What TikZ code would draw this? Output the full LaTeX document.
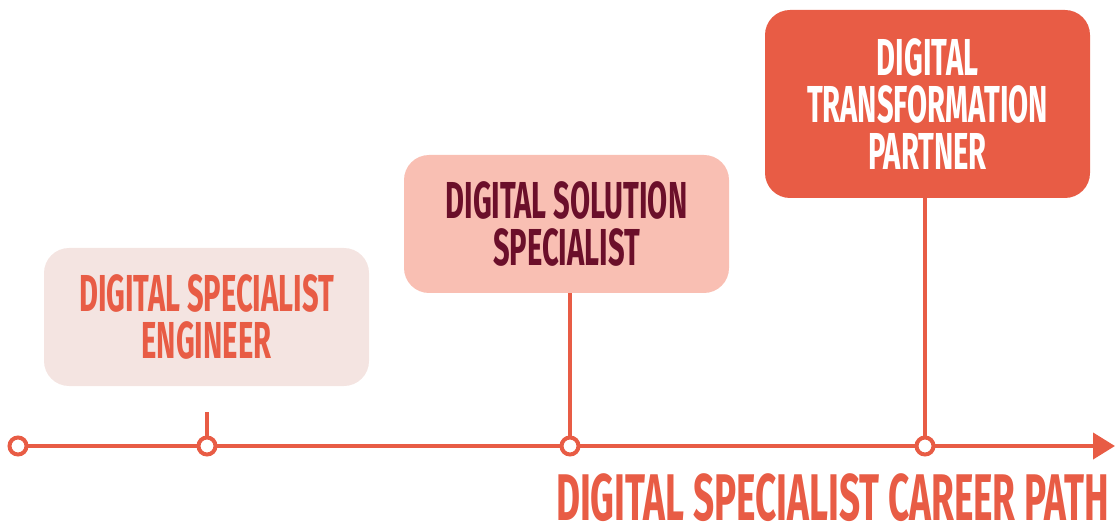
\documentclass[tikz,border=0pt]{standalone}
\usepackage{fontspec}
\setmainfont{Fira Sans}[FakeStretch=0.56]
\usetikzlibrary{arrows.meta}
\definecolor{coral}{HTML}{E85C45}
\definecolor{blush}{HTML}{F4E4E1}
\definecolor{salmon}{HTML}{F9BFB3}
\definecolor{maroon}{HTML}{6B0F2A}
\begin{document}
\begin{tikzpicture}[x=1pt,y=-1pt]
      \useasboundingbox (0,0) rectangle (1115,526);
      \begin{scope}[every node/.style={rounded corners=25pt,minimum width=325pt,align=center,inner sep=0pt,
                    font=\bfseries\fontsize{52}{47}\selectfont}]
        \node[fill=blush,text=coral,minimum height=138pt] (eng) at (206.5,317) {DIGITAL SPECIALIST\\ENGINEER};
        \node[fill=salmon,text=maroon,minimum height=138pt] (sol) at (566.5,224) {DIGITAL SOLUTION\\SPECIALIST};
        \node[fill=coral,text=white,minimum height=188pt] (par) at (927.5,104) {DIGITAL\\TRANSFORMATION\\PARTNER};
      \end{scope}
      \coordinate (t1) at (207,412);
      \coordinate (tip) at (1115,446);
      \draw[coral,line width=4pt,-{Triangle[length=22pt,width=26pt]}] (18,446) -- (tip);
      \begin{scope}[every node/.style={circle,draw=coral,fill=white,line width=4pt,minimum size=17pt,inner sep=0pt}]
        \node (m0) at (18,446) {};
        \node (m1) at (207,446) {};
        \node (m2) at (570,446) {};
        \node (m3) at (925,446) {};
      \end{scope}
      \begin{scope}[every edge/.style={draw=coral,line width=4pt}]
        \path (t1) edge (m1)
              (sol.south -| m2) edge (m2)
              (par.south -| m3) edge (m3);
      \end{scope}
      \node[text=coral,inner sep=0pt,font=\bfseries\fontsize{66}{66}\selectfont] (title) at (832.5,498) {DIGITAL SPECIALIST CAREER PATH};
    \end{tikzpicture}
\end{document}
